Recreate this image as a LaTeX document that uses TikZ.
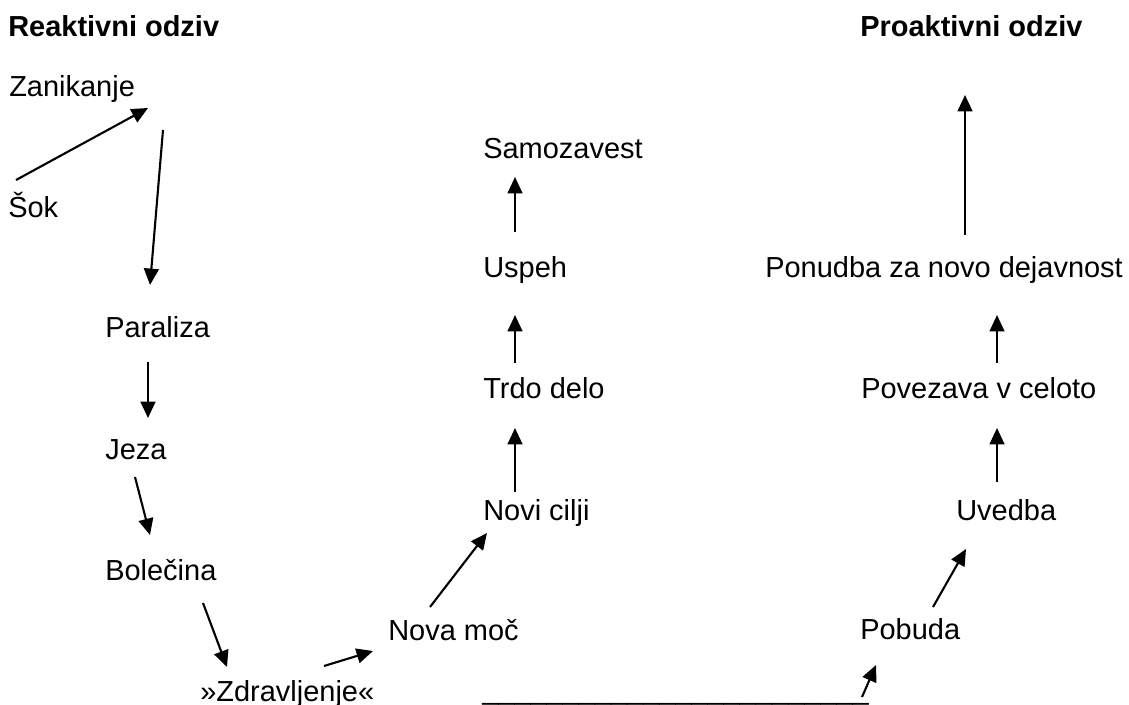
\documentclass[tikz,border=0pt]{standalone}
\usepackage{fontspec}
\setmainfont{Liberation Sans}
\usepackage{tikz}
\usetikzlibrary{arrows.meta, calc}

\begin{document}
\begin{tikzpicture}[x=0.025cm, y=-0.025cm,
    every node/.style={anchor=base west, inner sep=0pt, font=\fontsize{20.6}{24}\selectfont},
    naslov/.style={font=\fontsize{20.6}{24}\selectfont\bfseries},
    puscica/.style={line width=1.5pt, -{Triangle[length=0.41cm, width=0.37cm]}}]
    \useasboundingbox (0,0) rectangle (1129,704);

    % naslova
    \node[naslov] (reak) at (8,36) {Reaktivni odziv};
    \node[naslov] (proak) at (860,36) {Proaktivni odziv};

    % reaktivni odziv
    \node (zan) at (9,96) {Zanikanje};
    \node (sok) at (8,217) {Šok};
    \node (par) at (105,337) {Paraliza};
    \node (jeza) at (105,459) {Jeza};
    \node (bol) at (105,580) {Bolečina};
    \node (zdr) at (200,701) {»Zdravljenje«};
    \node (nmoc) at (388,640) {Nova moč};
    \node (ncilji) at (483,520) {Novi cilji};
    \node (trdo) at (483,398) {Trdo delo};
    \node (uspeh) at (483,277) {Uspeh};
    \node (samo) at (483,158) {Samozavest};

    % proaktivni odziv
    \node (crta) at (482,699) {\_\_\_\_\_\_\_\_\_\_\_\_\_\_\_\_\_\_\_\_\_\_\_\_};
    \node (pob) at (860,639) {Pobuda};
    \node (uved) at (956,520) {Uvedba};
    \node (pov) at (861,398) {Povezava v celoto};
    \node (pon) at (765,277) {Ponudba za novo dejavnost};
    \coordinate (vrh) at (965,95);

    \draw[puscica] ($(sok.base west)+(8,-37)$) -- ($(zan.base west)+(139,12)$);
    \draw[puscica] ($(zan.base west)+(154,34)$) -- ($(par.base west)+(45,-52)$);
    \draw[puscica] ($(par.base west)+(43,25)$) -- ($(jeza.base west)+(43,-41)$);
    \draw[puscica] ($(jeza.base west)+(30,18)$) -- ($(bol.base west)+(45,-45)$);
    \draw[puscica] ($(bol.base west)+(98,23)$) -- ($(zdr.base west)+(27,-34)$);
    \draw[puscica] ($(zdr.base west)+(124,-35)$) -- ($(nmoc.base west)+(-15,11)$);
    \draw[puscica] ($(nmoc.base west)+(42,-33)$) -- ($(ncilji.base west)+(4,13)$);
    \draw[puscica] ($(ncilji.base west)+(32,-28)$) -- ($(trdo.base west)+(32,30)$);
    \draw[puscica] ($(trdo.base west)+(32,-35)$) -- ($(uspeh.base west)+(32,38)$);
    \draw[puscica] ($(uspeh.base west)+(32,-45)$) -- ($(samo.base west)+(32,19)$);

    \draw[puscica] ($(crta.base west)+(380,-2)$) -- ($(pob.base west)+(16,26)$);
    \draw[puscica] ($(pob.base west)+(73,-32)$) -- ($(uved.base west)+(10,29)$);
    \draw[puscica] ($(uved.base west)+(41,-38)$) -- ($(pov.base west)+(136,30)$);
    \draw[puscica] ($(pov.base west)+(136,-35)$) -- ($(pon.base west)+(232,38)$);
    \draw[puscica] ($(pon.base west)+(200,-42)$) -- (vrh);
\end{tikzpicture}
\end{document}
